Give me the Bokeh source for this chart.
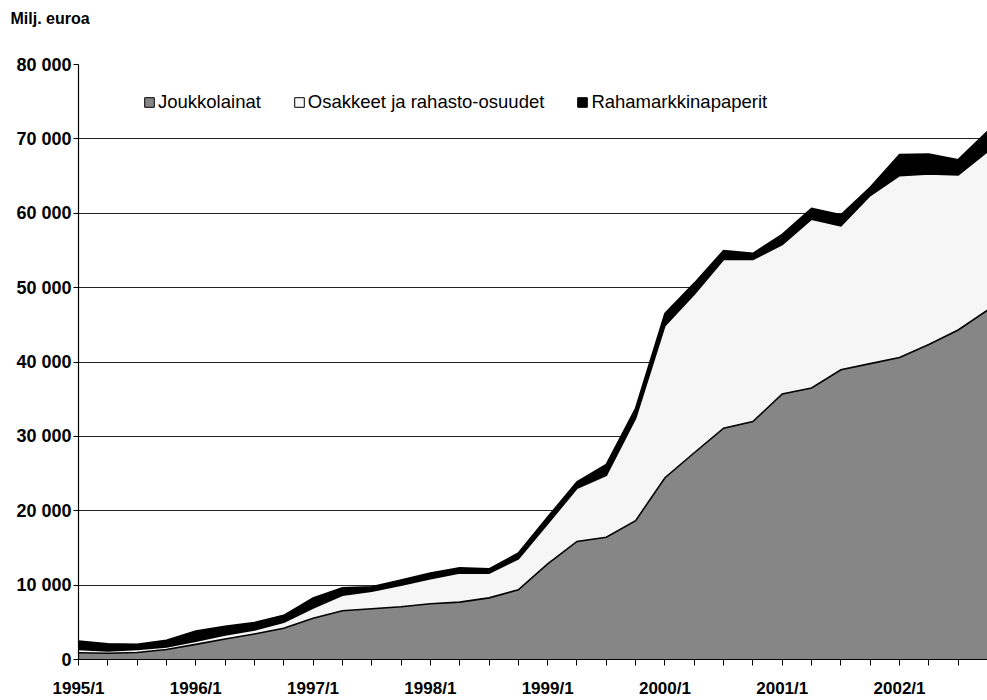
from bokeh.plotting import figure
from bokeh.models import (ColumnDataSource, Range1d, FixedTicker, Legend,
                          LegendItem, Title)
from bokeh.transform import stack
from bokeh.embed import file_html
from bokeh.resources import INLINE

# ---- data (million euros, quarterly) ----
quarters = ["1995/1", "1995/2", "1995/3", "1995/4",
            "1996/1", "1996/2", "1996/3", "1996/4",
            "1997/1", "1997/2", "1997/3", "1997/4",
            "1998/1", "1998/2", "1998/3", "1998/4",
            "1999/1", "1999/2", "1999/3", "1999/4",
            "2000/1", "2000/2", "2000/3", "2000/4",
            "2001/1", "2001/2", "2001/3", "2001/4",
            "2002/1", "2002/2", "2002/3", "2002/4"]
shown_labels = ["1995/1", "1996/1", "1997/1", "1998/1",
                "1999/1", "2000/1", "2001/1", "2002/1"]

joukkolainat = [900, 850, 950, 1350, 2030, 2750, 3430, 4200,
                5560, 6550, 6830, 7100, 7490, 7710, 8290, 9370,
                12870, 15870, 16440, 18670, 24440, 27800, 31110, 32000,
                35700, 36500, 38950, 39780, 40600, 42350, 44300, 46980]
osakkeet = [450, 300, 400, 350, 440, 550, 550, 820,
            1360, 2090, 2360, 2900, 3360, 3910, 3330, 4170,
            5380, 7150, 8320, 13770, 20450, 21300, 22690, 21800,
            20100, 22700, 19350, 22600, 24460, 22950, 20850, 21320]
rahamarkkina = [1120, 970, 700, 870, 1360, 1150, 1000, 910,
                1360, 990, 580, 700, 770, 710, 570, 770,
                900, 850, 1470, 1330, 1640, 1500, 1190, 800,
                1350, 1450, 1500, 1120, 2840, 2650, 2050, 2700]

series_names = ["Joukkolainat", "Osakkeet ja rahasto-osuudet", "Rahamarkkinapaperit"]
unit_label = "Milj. euroa"
y_ticks = [0, 10000, 20000, 30000, 40000, 50000, 60000, 70000, 80000]
y_tick_labels = ["0", "10 000", "20 000", "30 000", "40 000",
                 "50 000", "60 000", "70 000", "80 000"]

# ---- styling ----
FONT = "Liberation Sans"
colors = ["#868686", "#f6f6f6", "#000000"]

xs = list(range(len(quarters)))
src = ColumnDataSource(dict(x=xs, j=joukkolainat, o=osakkeet, r=rahamarkkina))

p = figure(width=987, height=700, output_backend="svg", toolbar_location=None,
           title=None,
           x_range=Range1d(0, len(quarters) - 1), y_range=Range1d(0, 80000),
           min_border_left=78, min_border_right=0, min_border_top=64,
           min_border_bottom=40, background_fill_color="white",
           border_fill_color="white", outline_line_color=None)

p.varea_stack(["j", "o", "r"], x="x", source=src, color=colors)
for cols in (["j"], ["j", "o"], ["j", "o", "r"]):
    p.line(x="x", y=stack(*cols), source=src, line_color="black",
           line_width=1.6, line_join="miter")

# legend swatches (no visible marks: NaN geometry, only used by the legend)
nan = float("nan")
dummies = []
for c in colors:
    dummies.append(p.quad(left=[nan], right=[nan], top=[nan], bottom=[nan],
                          fill_color=c, line_color="black", line_width=1))
legend = Legend(items=[LegendItem(label=n, renderers=[d], index=0)
                       for n, d in zip(series_names, dummies)],
                orientation="horizontal", location=(65, 546),
                glyph_width=12, glyph_height=12, label_standoff=3,
                spacing=32, padding=0, margin=0, label_height=18,
                label_text_font=FONT, label_text_font_size="18.5px",
                label_text_color="black",
                border_line_color=None, background_fill_alpha=0)
p.add_layout(legend)

# spacer panel between frame and the unit label, then the unit label itself
p.add_layout(Title(text=" ", text_font_size="32px", standoff=0), "above")
p.add_layout(Title(text=unit_label, text_font=FONT, text_font_size="16px",
                   text_font_style="bold", text_color="black", align="left",
                   offset=-68, standoff=0), "above")

# axes
p.xaxis.ticker = FixedTicker(ticks=xs)
p.xaxis.major_label_overrides = {i: (q if q in shown_labels else "")
                                 for i, q in zip(xs, quarters)}
p.yaxis.ticker = FixedTicker(ticks=y_ticks)
p.yaxis.major_label_overrides = dict(zip(y_ticks, y_tick_labels))
for ax in (p.xaxis[0], p.yaxis[0]):
    ax.axis_line_color = "black"
    ax.axis_line_width = 1.2
    ax.major_tick_line_color = "black"
    ax.major_tick_in = 0
    ax.minor_tick_line_color = None
    ax.major_label_text_font = FONT
    ax.major_label_text_font_style = "bold"
    ax.major_label_text_color = "black"
p.xaxis.major_tick_out = 6
p.yaxis.major_tick_out = 5
p.xaxis.major_label_text_font_size = "17px"
p.yaxis.major_label_text_font_size = "18px"
p.xaxis.major_label_standoff = 13
p.yaxis.major_label_standoff = 2

p.xgrid.grid_line_color = None
p.ygrid.grid_line_color = "#222222"
p.ygrid.grid_line_width = 1

open("out.html", "w").write(file_html(p, INLINE))
